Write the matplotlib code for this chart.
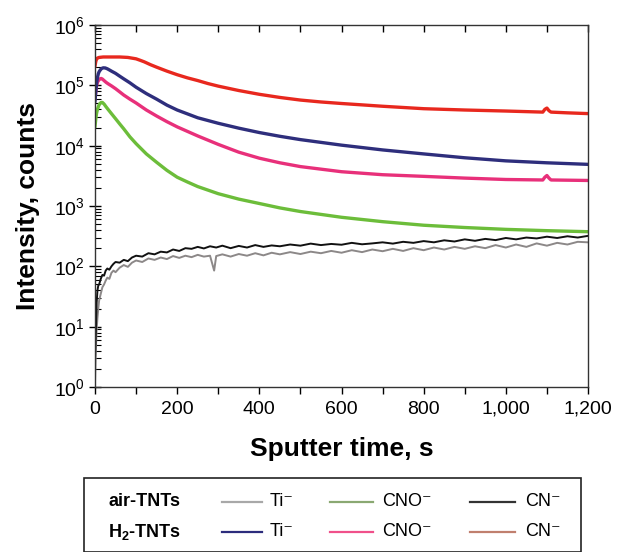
import matplotlib
matplotlib.use("Agg")
import matplotlib.pyplot as plt
from matplotlib.lines import Line2D
from matplotlib.patches import Rectangle
from matplotlib.ticker import FuncFormatter, MultipleLocator, LogLocator

plt.rcParams['font.family'] = ['Liberation Sans', 'DejaVu Sans']
plt.rcParams['mathtext.fontset'] = 'custom'
plt.rcParams['mathtext.rm'] = 'Liberation Sans'
plt.rcParams['mathtext.default'] = 'regular'

# ---- data ----
t_cn_air = [0, 2, 4, 6, 8, 10, 14, 18, 22, 26, 30, 35, 40, 45, 50, 60, 70, 80, 90, 100,
            115, 130, 145, 160, 175, 190, 205, 220, 235, 250, 265, 280, 295, 310, 330,
            350, 370, 390, 410, 430, 450, 475, 500, 525, 550, 575, 600, 625, 650, 675,
            700, 725, 750, 775, 800, 825, 850, 875, 900, 925, 950, 975, 1000, 1025, 1050,
            1075, 1100, 1125, 1150, 1175, 1200]
cn_air = [3, 8, 25, 40, 48, 50, 62, 72, 70, 85, 92, 88, 100, 110, 118, 115, 128, 122, 140, 150,
          145, 165, 158, 175, 170, 190, 180, 200, 195, 210, 198, 215, 205, 220, 200,
          218, 205, 225, 210, 222, 215, 230, 220, 238, 225, 235, 228, 245, 232, 240,
          250, 238, 255, 245, 262, 250, 270, 258, 280, 265, 285, 272, 295, 280, 300,
          290, 310, 295, 315, 300, 320]

t_ti_air = [0, 2, 4, 6, 8, 10, 14, 18, 22, 26, 30, 35, 40, 45, 50, 60, 70, 80, 90, 100,
            115, 130, 145, 160, 175, 190, 205, 220, 235, 250, 265, 280, 290, 295, 310, 330,
            350, 370, 390, 410, 430, 450, 475, 500, 525, 550, 575, 600, 625, 650, 675,
            700, 725, 750, 775, 800, 825, 850, 875, 900, 925, 950, 975, 1000, 1025, 1050,
            1075, 1100, 1125, 1150, 1175, 1200]
ti_air = [1.2, 4, 9, 14, 20, 27, 35, 45, 50, 58, 65, 62, 78, 85, 80, 95, 105, 98, 115, 125,
          118, 135, 128, 140, 132, 148, 138, 150, 142, 155, 145, 150, 85, 148, 158, 145,
          160, 150, 165, 152, 168, 158, 172, 160, 175, 165, 180, 168, 185, 172, 190,
          178, 195, 180, 200, 185, 205, 190, 210, 195, 215, 200, 225, 205, 230, 210,
          240, 220, 245, 230, 255, 250]

t_cno_air = [0, 2, 4, 6, 9, 12, 15, 18, 22, 27, 33, 40, 50, 60, 70, 85, 100, 125, 150, 175,
             200, 225, 250, 300, 350, 400, 450, 500, 600, 700, 800, 900, 1000, 1100, 1200]
cno_air = [2.1e4, 2.8e4, 3.5e4, 4.0e4, 4.6e4, 5.0e4, 5.2e4, 5.2e4, 4.9e4, 4.4e4, 3.9e4, 3.4e4,
           2.8e4, 2.3e4, 1.9e4, 1.4e4, 1.08e4, 7.3e3, 5.3e3, 3.9e3, 3.0e3, 2.5e3, 2.1e3, 1.6e3,
           1.3e3, 1.1e3, 930, 810, 650, 550, 480, 440, 410, 390, 375]

t_ti_h2 = [0, 2, 4, 6, 8, 10, 13, 16, 20, 25, 30, 35, 40, 50, 60, 70, 85, 100, 125, 150, 175,
           200, 250, 300, 350, 400, 450, 500, 600, 700, 800, 900, 1000, 1100, 1200]
ti_h2 = [5.5e4, 8e4, 1.1e5, 1.35e5, 1.55e5, 1.68e5, 1.8e5, 1.9e5, 1.95e5, 1.94e5, 1.88e5,
         1.8e5, 1.72e5, 1.58e5, 1.42e5, 1.28e5, 1.1e5, 9.3e4, 7.3e4, 5.9e4, 4.7e4, 3.9e4,
         2.9e4, 2.35e4, 1.95e4, 1.65e4, 1.43e4, 1.26e4, 1.02e4, 8.5e3, 7.3e3, 6.3e3, 5.6e3,
         5.2e3, 4.9e3]

t_cno_h2 = [0, 2, 4, 6, 9, 12, 15, 18, 22, 27, 33, 40, 50, 60, 70, 85, 100, 125, 150, 175,
            200, 250, 300, 350, 400, 450, 500, 600, 700, 800, 900, 1000, 1090, 1095, 1100,
            1105, 1110, 1200]
cno_h2 = [6e4, 8e4, 1.0e5, 1.12e5, 1.22e5, 1.28e5, 1.3e5, 1.27e5, 1.2e5, 1.12e5, 1.05e5,
          9.8e4, 8.8e4, 7.8e4, 6.9e4, 5.9e4, 5.1e4, 3.9e4, 3.1e4, 2.5e4, 2.05e4, 1.45e4,
          1.05e4, 7.8e3, 6.2e3, 5.2e3, 4.5e3, 3.7e3, 3.3e3, 3.1e3, 2.9e3, 2.75e3, 2.7e3,
          3.0e3, 3.2e3, 2.9e3, 2.7e3, 2.65e3]

t_cn_h2 = [0, 2, 4, 7, 10, 20, 40, 60, 80, 100, 110, 120, 135, 150, 175, 200, 225, 250, 275,
           300, 350, 400, 450, 500, 550, 600, 700, 800, 900, 1000, 1090, 1095, 1100, 1105,
           1110, 1150, 1200]
cn_h2 = [2.1e5, 2.5e5, 2.75e5, 2.85e5, 2.9e5, 2.95e5, 2.95e5, 2.95e5, 2.9e5, 2.75e5, 2.6e5,
         2.45e5, 2.2e5, 2.0e5, 1.72e5, 1.5e5, 1.33e5, 1.2e5, 1.07e5, 9.7e4, 8.2e4, 7.1e4,
         6.3e4, 5.7e4, 5.3e4, 5.0e4, 4.5e4, 4.1e4, 3.9e4, 3.75e4, 3.6e4, 4.0e4, 4.2e4, 3.8e4,
         3.6e4, 3.5e4, 3.4e4]

x_ticks = [0, 200, 400, 600, 800, 1000, 1200]

groups = ["air-TNTs", "H$_2$-TNTs"]
species = ["Ti\u207b", "CNO\u207b", "CN\u207b"]

# ---- figure ----
fig = plt.figure(figsize=(6.17, 5.52), dpi=100)
ax = fig.add_axes([95/617, 1-387/552, (588-95)/617, (387-25)/552])

ax.plot(t_ti_air, ti_air, color='#8c8888', lw=1.4)
ax.plot(t_cn_air, cn_air, color='#111111', lw=1.4)
ax.plot(t_cno_air, cno_air, color='#6cbd3a', lw=2.4)
ax.plot(t_cno_h2, cno_h2, color='#e8307a', lw=2.4)
ax.plot(t_ti_h2, ti_h2, color='#2e2e7c', lw=2.4)
ax.plot(t_cn_h2, cn_h2, color='#e8281e', lw=2.4)

ax.set_yscale('log')
ax.set_xlim(0, 1200)
ax.set_ylim(1, 1e6)
ax.set_xticks(x_ticks)
ax.xaxis.set_major_formatter(FuncFormatter(lambda v, p: f"{int(v):,}"))
ax.xaxis.set_minor_locator(MultipleLocator(100))
ax.yaxis.set_major_locator(LogLocator(base=10, numticks=10))
ax.yaxis.set_minor_locator(LogLocator(base=10, subs=range(2, 10), numticks=20))
ax.yaxis.set_minor_formatter(FuncFormatter(lambda v, p: ""))

ax.tick_params(axis='x', which='both', direction='out', length=5, width=1,
               top=True, labelsize=14, pad=5)
ax.tick_params(axis='y', which='major', direction='inout', length=8, width=1, labelsize=14)
ax.tick_params(axis='y', which='minor', direction='in', length=4, width=0.8)
ax.tick_params(axis='y', which='both', right=False)
for tk in ax.xaxis.get_major_ticks() + ax.xaxis.get_minor_ticks():
    tk.tick2line.set_marker(matplotlib.markers.TICKDOWN)
for s in ax.spines.values():
    s.set_color('#333333')
    s.set_linewidth(1.0)

ax.set_xlabel("Sputter time, s", fontsize=19, fontweight='bold', labelpad=14)
ax.set_ylabel("Intensity, counts", fontsize=19, fontweight='bold', labelpad=10)

# ---- legend box ----
W, H = 617, 552
fig.patches.append(Rectangle((84/W, 0), (581-84)/W, (552-478)/H, transform=fig.transFigure,
                             fill=False, edgecolor='#222222', lw=1.2))
leg_colors = [['#a8a8a8', '#8aa872', '#333333'],
              ['#2c2c7c', '#f0508a', '#c07f6e']]
rows_y = [1-502/H, 1-532/H]
line_x = [(222, 262), (330, 373), (470, 515)]
text_x = [270, 382, 525]
for r, (g, yy) in enumerate(zip(groups, rows_y)):
    fig.text(108/W, yy, g, fontsize=13, fontweight='bold', va='center', ha='left')
    for c in range(3):
        x0, x1 = line_x[c]
        fig.add_artist(Line2D([x0/W, x1/W], [yy, yy], color=leg_colors[r][c], lw=1.6,
                              transform=fig.transFigure))
        fig.text(text_x[c]/W, yy, species[c], fontsize=13, va='center', ha='left')

fig.savefig("out.png", dpi=100)
